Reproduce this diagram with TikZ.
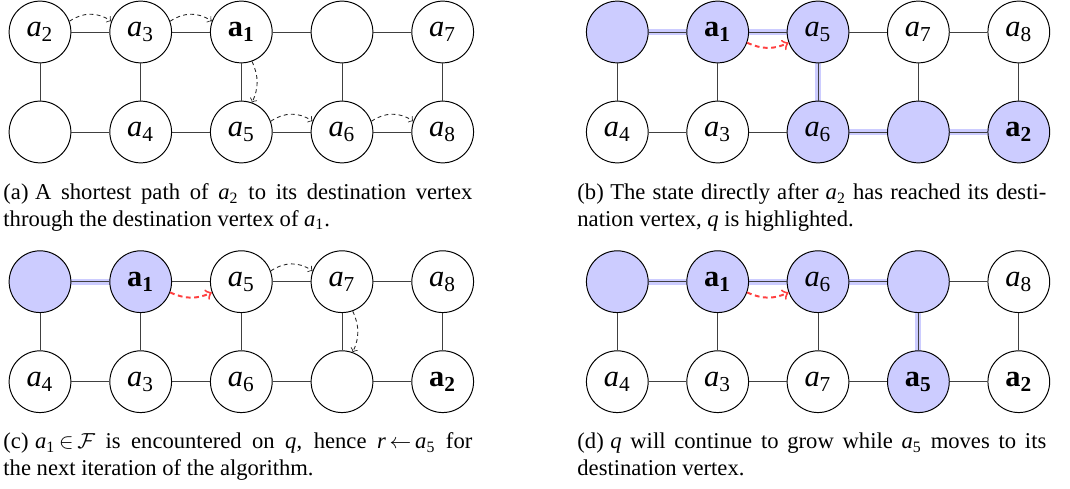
\documentclass[tikz,border=0pt]{standalone}
\usepackage{amsmath}
\usepackage{fontspec}
\setmainfont{Liberation Serif}
\usetikzlibrary{backgrounds}
\newcommand\ia[1]{\textit{a}\textsubscript{#1}}
\newcommand\ba[1]{\textbf{a\textsubscript{#1}}}
\tikzset{
  vtx/.style={circle, draw=black, line width=0.45pt, minimum size=28.4pt, inner sep=0pt, fill=white, font=\fontsize{14}{16}\selectfont},
  hl/.style={fill=blue!20},
  edge/.style={draw=black!75, line width=0.45pt},
  band/.style={draw=blue!20, line width=2.7pt},
  mv/.style={->, draw=black!85, line width=0.4pt, dash pattern=on 1.8pt off 1.5pt},
  rmv/.style={->, draw=red!75, line width=0.9pt, dash pattern=on 2.2pt off 1.6pt},
  captxt/.style={anchor=base west, inner sep=0pt, text width=215.7pt, align=justify, font=\fontsize{10.4}{12}\selectfont}
}
\begin{document}
\begin{tikzpicture}[x=0.46pt,y=-0.46pt]
\useasboundingbox (0,0) rectangle (1070,489);
% ---------- panel (a)
\node[vtx] (A11) at (40,32) {\ia2};
\node[vtx] (A12) at (140.7,32) {\ia3};
\node[vtx] (A13) at (241.3,32) {\ba1};
\node[vtx] (A14) at (342,32) {};
\node[vtx] (A15) at (442.7,32) {\ia7};
\node[vtx] (A21) at (40,132) {};
\node[vtx] (A22) at (140.7,132) {\ia4};
\node[vtx] (A23) at (241.3,132) {\ia5};
\node[vtx] (A24) at (342,132) {\ia6};
\node[vtx] (A25) at (442.7,132) {\ia8};
% ---------- panel (b)
\node[vtx,hl] (B11) at (617.3,32) {};
\node[vtx,hl] (B12) at (717.7,32) {\ba1};
\node[vtx,hl] (B13) at (818,32) {\ia5};
\node[vtx] (B14) at (918.4,32) {\ia7};
\node[vtx] (B15) at (1018.8,32) {\ia8};
\node[vtx] (B21) at (617.3,132) {\ia4};
\node[vtx] (B22) at (717.7,132) {\ia3};
\node[vtx,hl] (B23) at (818,132) {\ia6};
\node[vtx,hl] (B24) at (918.4,132) {};
\node[vtx,hl] (B25) at (1018.8,132) {\ba2};
% ---------- panel (c)
\node[vtx,hl] (C11) at (40,281.7) {};
\node[vtx,hl] (C12) at (140.7,281.7) {\ba1};
\node[vtx] (C13) at (241.3,281.7) {\ia5};
\node[vtx] (C14) at (342,281.7) {\ia7};
\node[vtx] (C15) at (442.7,281.7) {\ia8};
\node[vtx] (C21) at (40,381.7) {\ia4};
\node[vtx] (C22) at (140.7,381.7) {\ia3};
\node[vtx] (C23) at (241.3,381.7) {\ia6};
\node[vtx] (C24) at (342,381.7) {};
\node[vtx] (C25) at (442.7,381.7) {\ba2};
% ---------- panel (d)
\node[vtx,hl] (D11) at (617.3,281.7) {};
\node[vtx,hl] (D12) at (717.7,281.7) {\ba1};
\node[vtx,hl] (D13) at (818,281.7) {\ia6};
\node[vtx,hl] (D14) at (918.4,281.7) {};
\node[vtx] (D15) at (1018.8,281.7) {\ia8};
\node[vtx] (D21) at (617.3,381.7) {\ia4};
\node[vtx] (D22) at (717.7,381.7) {\ia3};
\node[vtx] (D23) at (818,381.7) {\ia7};
\node[vtx,hl] (D24) at (918.4,381.7) {\ba5};
\node[vtx] (D25) at (1018.8,381.7) {\ba2};
% ---------- highlight bands
\begin{scope}[on background layer]
  \draw[band,yshift=0.5pt] (B11.center) -- (B12.center) -- (B13.center);
  \draw[band,xshift=-0.3pt] (B13.center) -- (B23.center);
  \draw[band,yshift=0.5pt] (B23.center) -- (B24.center) -- (B25.center);
  \draw[band,yshift=0.5pt] (C11.center) -- (C12.center);
  \draw[band,yshift=0.5pt] (D11.center) -- (D12.center) -- (D13.center) -- (D14.center);
  \draw[band,xshift=-0.3pt] (D14.center) -- (D24.center);
\end{scope}
% ---------- grid edges
\foreach \p in {A,B,C,D}{
  \foreach \c/\n in {1/2,2/3,3/4,4/5}{
    \draw[edge] (\p1\c) -- (\p1\n);
    \draw[edge] (\p2\c) -- (\p2\n);
  }
  \foreach \c in {1,...,5}{
    \draw[edge] (\p1\c) -- (\p2\c);
  }
}
% ---------- moves
\draw[mv] (A11.20) to[bend left=35] (A12.160);
\draw[mv] (A12.20) to[bend left=35] (A13.160);
\draw[mv] (A13.-70) to[bend left=25] (A23.70);
\draw[mv] (A23.20) to[bend left=35] (A24.160);
\draw[mv] (A24.20) to[bend left=35] (A25.160);
\draw[rmv] (B12.-20) to[bend right=25] (B13.200);
\draw[rmv] (C12.-20) to[bend right=25] (C13.200);
\draw[mv] (C13.20) to[bend left=35] (C14.160);
\draw[mv] (C14.-70) to[bend left=25] (C24.70);
\draw[rmv] (D12.-20) to[bend right=25] (D13.200);
% ---------- captions
\node[captxt] (capa) at (3,200) {(a)\hspace{3pt}A shortest path of \ia2 to its destination vertex\linebreak through the destination vertex of \ia1.};
\node[captxt] (capb) at (577,200) {(b)\hspace{3pt}The state directly after \ia2 has reached its desti-\linebreak nation vertex, \textit{q} is highlighted.};
\node[captxt] (capc) at (3,449) {(c)\hspace{3pt}\ia1\,$\in$\,$\mathcal{F}$\ is encountered on \textit{q}, hence \textit{r}\,$\leftarrow$\,\ia5 for\linebreak the next iteration of the algorithm.};
\node[captxt] (capd) at (577,449) {(d)\hspace{3pt}\textit{q} will continue to grow while \ia5 moves to its\linebreak destination vertex.};
\end{tikzpicture}
\end{document}
